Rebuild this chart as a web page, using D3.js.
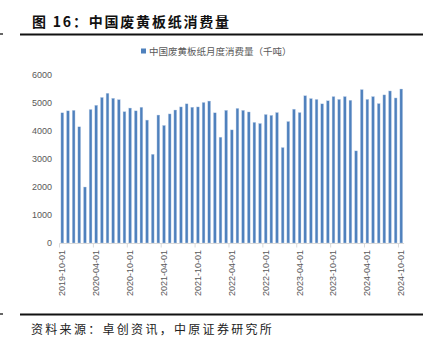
<!DOCTYPE html>
<html><head><meta charset="utf-8">
<script src="https://cdn.jsdelivr.net/npm/d3@7/dist/d3.min.js"></script>
<style>body{margin:0;background:#fff;}svg{display:block;}</style>
</head><body>
<script>
const categories = [
"2019-10","2019-11","2019-12","2020-01","2020-02","2020-03","2020-04","2020-05","2020-06","2020-07","2020-08","2020-09",
"2020-10","2020-11","2020-12","2021-01","2021-02","2021-03","2021-04","2021-05","2021-06","2021-07","2021-08","2021-09",
"2021-10","2021-11","2021-12","2022-01","2022-02","2022-03","2022-04","2022-05","2022-06","2022-07","2022-08","2022-09",
"2022-10","2022-11","2022-12","2023-01","2023-02","2023-03","2023-04","2023-05","2023-06","2023-07","2023-08","2023-09",
"2023-10","2023-11","2023-12","2024-01","2024-02","2024-03","2024-04","2024-05","2024-06","2024-07","2024-08","2024-09",
"2024-10"];
const consumption = [
4650,4720,4740,4150,2000,4770,4920,5200,5350,5170,5120,4690,
4820,4720,4850,4390,3170,4570,4200,4610,4750,4860,4970,4850,
4860,5020,5070,4650,3780,4740,4040,4810,4740,4680,4310,4270,
4590,4560,4660,3410,4340,4780,4660,5260,5160,5130,4970,5080,
5230,5130,5230,5100,3290,5480,5130,5230,4980,5290,5430,5180,
5500];
const yTicks = [0,1000,2000,3000,4000,5000,6000];
const xTickLabels = ["2019-10-01","2020-04-01","2020-10-01","2021-04-01","2021-10-01","2022-04-01","2022-10-01","2023-04-01","2023-10-01","2024-04-01","2024-10-01"];
const seriesName = "中国废黄板纸月度消费量（千吨）";
const titleText = "图 16：中国废黄板纸消费量";
const sourceText = "资料来源：卓创资讯，中原证券研究所";

const W=430,H=348;
const svg=d3.select("body").append("svg").attr("width",W).attr("height",H);
const cjk="'Noto Sans CJK SC','Noto Sans',sans-serif";
const latin="'Liberation Sans',Arial,sans-serif";

// title
svg.append("text").attr("x",32).attr("y",27).attr("font-family",cjk).attr("font-weight","bold")
  .attr("font-size",14).attr("letter-spacing",1.8).attr("fill","#111").text(titleText);
svg.append("line").attr("x1",20).attr("x2",423).attr("y1",34.5).attr("y2",34.5).attr("stroke","#111").attr("stroke-width",2);
svg.append("line").attr("x1",0).attr("x2",3).attr("y1",34).attr("y2",34).attr("stroke","#333").attr("stroke-width",1.5);

const x=d3.scaleBand().domain(categories).range([59.5,404.1]).paddingInner(0.5).paddingOuter(0.25);
const y=d3.scaleLinear().domain([0,6000]).range([243,75]);

// legend
svg.append("rect").attr("x",141).attr("y",48.5).attr("width",5).attr("height",5).attr("fill","#4f81bd");
svg.append("text").attr("x",149).attr("y",54.5).attr("font-family",cjk).attr("font-size",9.5).attr("fill","#595959").text(seriesName);

// y axis labels
const yAxis=d3.axisLeft(y).tickValues(yTicks).tickSize(0).tickPadding(0).tickFormat(d3.format("d"));
const gy=svg.append("g").attr("transform","translate(52,0)").call(yAxis);
gy.select(".domain").remove();
gy.selectAll("text").attr("font-family",latin).attr("font-size",9).attr("fill","#595959");

// bars
svg.append("g").selectAll("rect").data(categories).join("rect")
  .attr("x",d=>x(d)).attr("width",x.bandwidth())
  .attr("y",(d,i)=>y(consumption[i])).attr("height",(d,i)=>y(0)-y(consumption[i]))
  .attr("fill","#4f81bd").attr("stroke","#c5d5ea").attr("stroke-width",0.4);

// x axis
const step=x.step();
const x0=59.5;
const gx=svg.append("g");
gx.append("line").attr("x1",x0).attr("x2",x0+step*categories.length).attr("y1",243.5).attr("y2",243.5).attr("stroke","#d9d9d9");
const tickIdx=d3.range(0,categories.length+1,6);
gx.selectAll("line.t").data(tickIdx).join("line").attr("class","t")
  .attr("x1",i=>x0+i*step).attr("x2",i=>x0+i*step).attr("y1",243.5).attr("y2",247.5).attr("stroke","#d9d9d9");
const labelCats=xTickLabels.map(s=>s.slice(0,7));
gx.selectAll("text").data(xTickLabels).join("text")
  .attr("transform",(d,i)=>`translate(${x(labelCats[i])+x.bandwidth()/2+3},250) rotate(-90)`)
  .attr("text-anchor","end").attr("font-family",latin).attr("font-size",9).attr("fill","#595959").text(d=>d);

// footer
svg.append("line").attr("x1",20).attr("x2",423).attr("y1",314.5).attr("y2",314.5).attr("stroke","#111").attr("stroke-width",2);
svg.append("line").attr("x1",0).attr("x2",3).attr("y1",314).attr("y2",314).attr("stroke","#333").attr("stroke-width",1.5);
svg.append("text").attr("x",31).attr("y",334).attr("font-family",cjk).attr("font-size",12).attr("letter-spacing",2.3)
  .attr("fill","#222").text(sourceText);
</script>
</body></html>
